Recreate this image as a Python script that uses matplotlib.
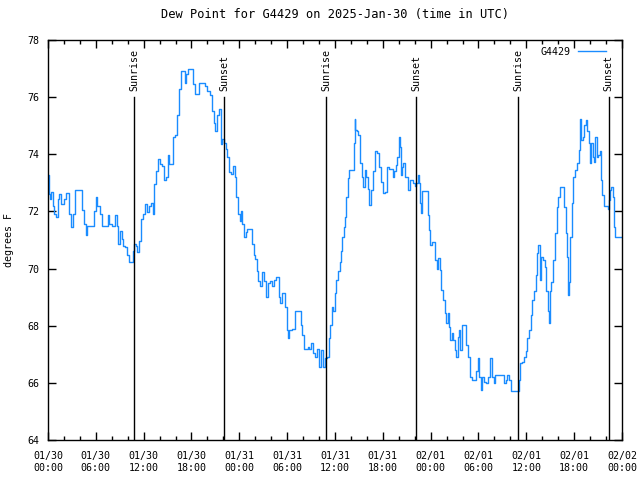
import pandas as pd
import matplotlib
matplotlib.use('Agg')
import matplotlib.pyplot as plt
import matplotlib.dates as mdates

plt.rc('font', family='DejaVu Sans Mono', size=7.2)

# hours after 2025-01-30 00:00 UTC, and dew point (F)
hours = [0.04, 0.16, 0.3, 0.46, 0.67, 0.88, 1.09, 1.3, 1.5, 1.8, 2.13, 2.34, 2.55, 2.76,
         3.05, 3.3, 3.5, 4.2, 4.42, 4.63, 4.84, 5.05, 5.68, 5.9, 6.1, 6.3, 6.65, 6.82,
         7.36, 7.57, 7.78, 8.2, 8.5, 8.74, 8.9, 9.15, 9.36, 9.57, 9.86, 10.07, 10.32,
         10.57, 10.74, 10.9, 11.1, 11.3, 11.56, 11.8, 12.05, 12.26, 12.55, 12.8, 13.05,
         13.2, 13.47, 13.72, 14.0, 14.2, 14.38, 14.6, 14.88, 15.1, 15.3, 15.5, 15.8,
         16.0, 16.3, 16.6, 16.8, 17.05, 17.2, 17.4, 17.6, 18.0, 18.27, 18.5, 18.8, 19.1,
         19.55, 19.8, 20.2, 20.5, 20.7, 20.9, 21.1, 21.4, 21.6, 21.8, 21.96, 22.2, 22.4,
         22.6, 22.9, 23.1, 23.3, 23.5, 23.7, 23.95, 24.1, 24.3, 24.45, 24.7, 24.9, 25.1,
         25.5, 25.7, 25.9, 26.1, 26.3, 26.5, 26.8, 27.0, 27.3, 27.5, 27.8, 28.0, 28.3,
         28.5, 28.7, 28.9, 29.05, 29.2, 29.4, 29.6, 29.85, 30.0, 30.2, 30.3, 30.9, 31.1,
         31.6, 31.8, 32.0, 32.2, 32.45, 32.7, 32.9, 33.2, 33.4, 33.6, 33.9, 34.15, 34.4,
         34.6, 34.8, 35.1, 35.3, 35.5, 35.7, 35.85, 36.05, 36.25, 36.5, 36.7, 36.85,
         37.0, 37.2, 37.35, 37.5, 37.7, 37.9, 38.3, 38.4, 38.5, 38.6, 38.8, 39.0, 39.3,
         39.45, 39.6, 39.9, 40.0, 40.2, 40.45, 40.7, 40.9, 41.15, 41.4, 41.65, 41.9,
         42.1, 42.4, 42.65, 42.9, 43.15, 43.3, 43.5, 43.7, 43.9, 44.05, 44.2, 44.3,
         44.5, 44.65, 44.8, 45.05, 45.3, 45.5, 45.7, 45.9, 46.1, 46.3, 46.5, 46.6, 46.8,
         46.9, 47.05, 47.5, 47.8, 47.9, 48.05, 48.2, 48.5, 48.7, 48.9, 49.05, 49.2,
         49.4, 49.6, 49.9, 50.05, 50.2, 50.4, 50.55, 50.7, 50.95, 51.1, 51.3, 51.45,
         51.6, 51.8, 51.95, 52.3, 52.55, 52.8, 53.0, 53.3, 53.55, 53.8, 54.0, 54.25,
         54.4, 54.6, 54.8, 55.1, 55.4, 55.6, 55.85, 56.0, 56.2, 57.1, 57.3, 57.5, 57.75,
         57.95, 58.2, 59.0, 59.2, 59.3, 59.6, 59.8, 60.0, 60.2, 60.4, 60.65, 60.85,
         61.05, 61.25, 61.45, 61.6, 61.8, 62.0, 62.2, 62.4, 62.6, 62.75, 62.85, 63.0,
         63.3, 63.5, 63.7, 63.9, 64.15, 64.35, 64.6, 64.85, 65.0, 65.15, 65.25, 65.4,
         65.6, 65.8, 66.0, 66.25, 66.5, 66.6, 66.8, 66.95, 67.15, 67.35, 67.55, 67.7,
         67.9, 68.05, 68.2, 68.4, 68.55, 68.75, 68.95, 69.1, 69.3, 69.45, 69.6, 69.8,
         70.1, 70.3, 70.4, 70.6, 70.75, 70.9, 71.1, 71.25, 71.9]
dew_point = [73.26, 72.62, 72.44, 72.67, 72.2, 71.9, 71.8, 72.44, 72.6, 72.27, 72.44, 72.64,
             72.64, 71.9, 71.45, 71.9, 72.76, 72.76, 72.05, 71.57, 71.16, 71.5, 71.5, 72.03,
             72.5, 72.2, 71.9, 71.5, 71.5, 71.86, 71.57, 71.5, 71.86, 71.5, 70.87, 71.33,
             71.04, 70.8, 70.75, 70.46, 70.22, 70.22, 70.63, 70.87, 70.8, 70.57, 70.98,
             71.74, 71.9, 72.27, 71.97, 72.2, 72.29, 71.9, 72.97, 73.43, 73.84, 73.67, 73.6,
             73.1, 73.2, 73.96, 73.67, 73.67, 74.6, 74.66, 75.36, 76.3, 76.93, 76.93, 76.5,
             76.8, 77.0, 77.0, 76.47, 76.1, 76.1, 76.5, 76.5, 76.4, 76.2, 76.06, 75.53,
             75.1, 74.83, 75.36, 75.6, 74.37, 74.54, 74.4, 74.2, 73.9, 73.37, 73.3, 73.6,
             73.2, 72.5, 71.9, 71.68, 72.03, 71.57, 71.1, 71.27, 71.4, 71.4, 70.87, 70.46,
             70.34, 69.93, 69.58, 69.4, 69.87, 69.58, 69.0, 69.5, 69.58, 69.4, 69.6, 69.7,
             69.7, 69.02, 68.8, 69.13, 69.13, 68.67, 67.85, 67.56, 67.85, 67.87, 68.5,
             68.5, 68.02, 67.67, 67.2, 67.2, 67.26, 67.17, 67.4, 67.03, 66.9, 67.2, 66.57,
             67.15, 66.57, 66.86, 66.9, 67.56, 68.02, 68.67, 68.5, 69.13, 69.6, 69.9, 70.24,
             70.6, 71.1, 71.47, 71.8, 72.5, 73.16, 73.45, 73.45, 74.38, 75.22, 74.85, 74.8,
             74.67, 73.68, 73.2, 72.87, 73.45, 73.2, 72.8, 72.22, 72.75, 73.4, 74.1, 74.03,
             73.57, 73.04, 72.63, 72.69, 73.57, 73.5, 73.5, 73.2, 73.4, 73.62, 73.92, 74.62,
             74.27, 73.27, 73.57, 73.68, 73.2, 73.2, 72.75, 73.1, 73.1, 73.0, 72.9, 73.0,
             73.27, 73.0, 72.28, 71.93, 72.7, 72.7, 71.87, 71.35, 70.82, 70.94, 70.94, 70.3,
             70.0, 70.36, 69.95, 69.25, 68.9, 68.43, 68.08, 68.43, 67.97, 67.5, 67.73, 67.5,
             67.15, 66.9, 67.6, 67.85, 67.15, 68.02, 68.02, 67.32, 66.9, 66.2, 66.1, 66.1,
             66.4, 66.86, 66.2, 65.75, 66.2, 66.04, 65.98, 66.2, 66.86, 66.2, 65.98, 66.27,
             66.27, 65.98, 66.1, 66.27, 66.1, 65.72, 65.72, 66.1, 66.68, 66.74, 66.9, 67.1,
             67.56, 67.85, 68.37, 68.9, 69.2, 69.77, 70.53, 70.82, 69.6, 70.42, 70.3, 70.07,
             69.2, 68.5, 68.08, 69.2, 69.54, 70.3, 71.23, 72.17, 72.5, 72.84, 72.84, 72.17,
             71.23, 70.42, 69.07, 69.54, 71.12, 72.28, 73.2, 73.45, 73.68, 74.15, 75.22,
             74.5, 74.62, 75.02, 75.2, 74.8, 74.38, 73.68, 74.38, 73.92, 73.74, 74.62, 73.92,
             73.97, 74.1, 73.1, 72.57, 72.2, 72.2, 72.1, 72.4, 72.75, 72.87, 72.52, 71.47,
             71.12, 71.12]

# sunrise / sunset times (hours after start)
sun_hours = [10.82, 22.12, 34.9, 46.2, 58.98, 70.32]
sun_labels = ['Sunrise', 'Sunset', 'Sunrise', 'Sunset', 'Sunrise', 'Sunset']

start = pd.Timestamp('2025-01-30 00:00')
times = start + pd.to_timedelta(hours, unit='h')
sun_times = start + pd.to_timedelta(sun_hours, unit='h')

fig = plt.figure(figsize=(6.4, 4.8), dpi=100)
ax = fig.add_axes([48 / 640, 40 / 480, 574 / 640, 400 / 480])

ax.plot(times, dew_point, color='#1a8cff', lw=1.0, drawstyle='steps-mid', label='G4429')

for t, lab in zip(sun_times, sun_labels):
    ax.plot([t, t], [64, 76], color='black', lw=1.0)
    ax.text(t, 76.2, lab, rotation=90, ha='center', va='bottom')

ax.set_xlim(start, start + pd.Timedelta(hours=72))
ax.set_ylim(64, 78)
ax.set_yticks(range(64, 79, 2))
ax.xaxis.set_major_locator(mdates.HourLocator(byhour=range(0, 24, 6)))
ax.xaxis.set_minor_locator(mdates.HourLocator(interval=2))
ax.xaxis.set_major_formatter(mdates.DateFormatter('%m/%d\n%H:%M'))
ax.tick_params(which='both', direction='in', top=True, right=True, width=1)
ax.tick_params(which='major', length=6, pad=8)
ax.tick_params(axis='y', pad=6)
ax.tick_params(which='minor', length=3)
for s in ax.spines.values():
    s.set_linewidth(1.0)

ax.set_ylabel('degrees F', labelpad=10)
ax.set_title('Dew Point for G4429 on 2025-Jan-30 (time in UTC)', pad=16)
ax.legend(loc='upper right', frameon=False, markerfirst=False, handlelength=2.8,
          bbox_to_anchor=(0.985, 1.0), borderaxespad=0.3)

fig.savefig('out.png', dpi=100)
